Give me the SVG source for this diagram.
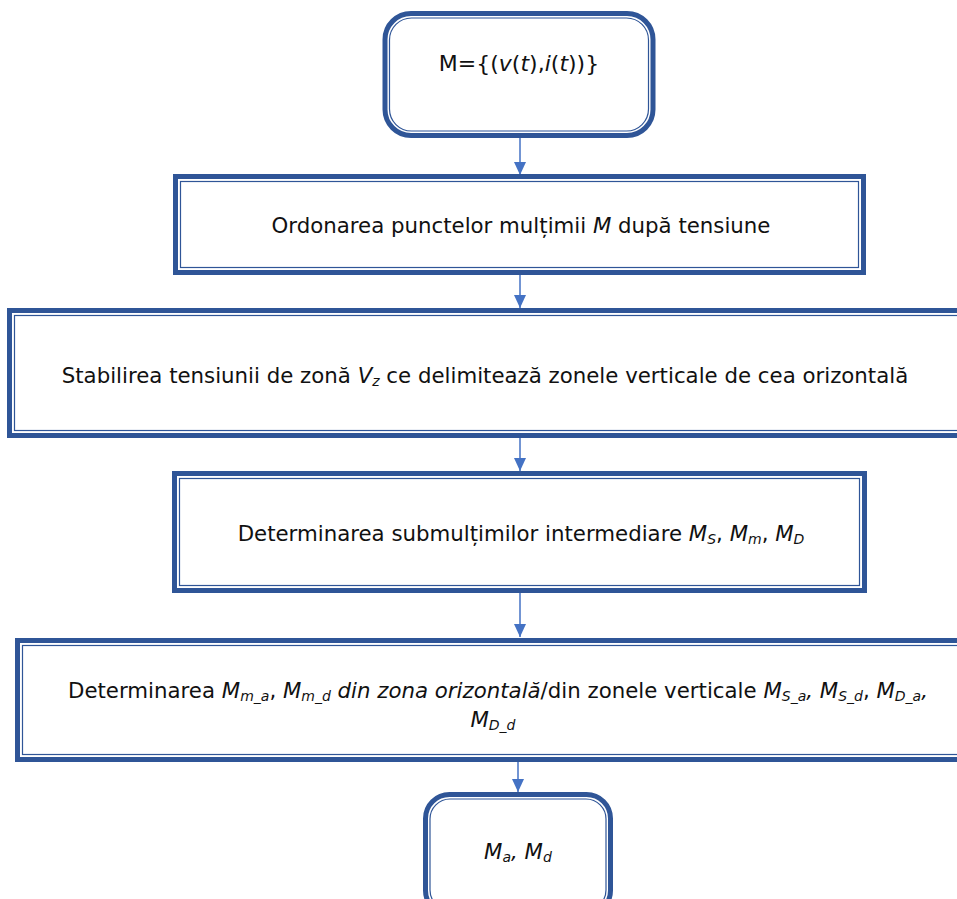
<svg xmlns="http://www.w3.org/2000/svg" width="957" height="899" viewBox="0 0 957 899">
<defs>
<style>
.o{fill:#fff;stroke:#2F5597;stroke-width:5}
.i{fill:none;stroke:#2F5597;stroke-width:1.2}
.c{stroke:#4472C4;stroke-width:1.5;fill:none}
.h{fill:#4472C4}
text{font-family:"DejaVu Sans","Verdana",sans-serif;font-size:21.3px;fill:#111;text-anchor:middle}
.it{font-style:italic}
.s{font-size:14px}
</style>
</defs>
<rect width="957" height="899" fill="#fff"/>
<g id="connectors">
<line class="c" x1="520" y1="138" x2="520" y2="175"/>
<path class="h" d="M514,162 L526,162 L520,175 z"/>
<line class="c" x1="520" y1="275" x2="520" y2="308"/>
<path class="h" d="M514,295 L526,295 L520,308 z"/>
<line class="c" x1="520" y1="438" x2="520" y2="471"/>
<path class="h" d="M514,458 L526,458 L520,471 z"/>
<line class="c" x1="520" y1="593" x2="520" y2="637"/>
<path class="h" d="M514,624 L526,624 L520,637 z"/>
<line class="c" x1="518" y1="762" x2="518" y2="792"/>
<path class="h" d="M512,779 L524,779 L518,792 z"/>
</g>
<g id="n1">
<rect class="o" x="385" y="13.5" width="268" height="122" rx="26"/>
<rect class="i" x="389.5" y="18" width="259" height="113" rx="22"/>
<text x="519" y="71" style="font-size:22px">M={(<tspan class="it">v</tspan>(<tspan class="it">t</tspan>),<tspan class="it">i</tspan>(<tspan class="it">t</tspan>))}</text>
</g>
<g id="n2">
<rect class="o" x="175.5" y="176.5" width="688" height="96"/>
<rect class="i" x="180.5" y="181.5" width="678" height="86"/>
<text x="521" y="233">Ordonarea punctelor mulțimii <tspan class="it">M</tspan> după tensiune</text>
</g>
<g id="n3">
<rect class="o" x="9.5" y="310.5" width="960" height="125"/>
<rect class="i" x="14.5" y="315.5" width="950" height="115"/>
<text x="485" y="383">Stabilirea tensiunii de zonă <tspan class="it">V</tspan><tspan class="it s" baseline-shift="-3">z</tspan> ce delimitează zonele verticale de cea orizontală</text>
</g>
<g id="n4">
<rect class="o" x="174.5" y="473.5" width="690" height="117"/>
<rect class="i" x="179.5" y="478.5" width="680" height="107"/>
<text x="521" y="541">Determinarea submulțimilor intermediare <tspan class="it">M</tspan><tspan class="it s" baseline-shift="-3">S</tspan>, <tspan class="it">M</tspan><tspan class="it s" baseline-shift="-3">m</tspan>, <tspan class="it">M</tspan><tspan class="it s" baseline-shift="-3">D</tspan></text>
</g>
<g id="n5">
<rect class="o" x="17.5" y="640.5" width="960" height="119"/>
<rect class="i" x="22.5" y="645.5" width="950" height="109"/>
<text x="498" y="698">Determinarea <tspan class="it">M</tspan><tspan class="it s" baseline-shift="-3">m_a</tspan>, <tspan class="it">M</tspan><tspan class="it s" baseline-shift="-3">m_d</tspan><tspan class="it"> din zona orizontală</tspan>/din zonele verticale <tspan class="it">M</tspan><tspan class="it s" baseline-shift="-3">S_a</tspan><tspan class="it">, M</tspan><tspan class="it s" baseline-shift="-3">S_d</tspan>, <tspan class="it">M</tspan><tspan class="it s" baseline-shift="-3">D_a</tspan><tspan class="it">,</tspan></text>
<text x="493" y="727"><tspan class="it">M</tspan><tspan class="it s" baseline-shift="-3">D_d</tspan></text>
</g>
<g id="n6">
<rect class="o" x="425.5" y="794.5" width="185" height="120" rx="24"/>
<rect class="i" x="430" y="799" width="176" height="111" rx="20"/>
<text x="518" y="859"><tspan class="it">M</tspan><tspan class="it s" baseline-shift="-3">a</tspan><tspan class="it">, M</tspan><tspan class="it s" baseline-shift="-3">d</tspan></text>
</g>
</svg>
